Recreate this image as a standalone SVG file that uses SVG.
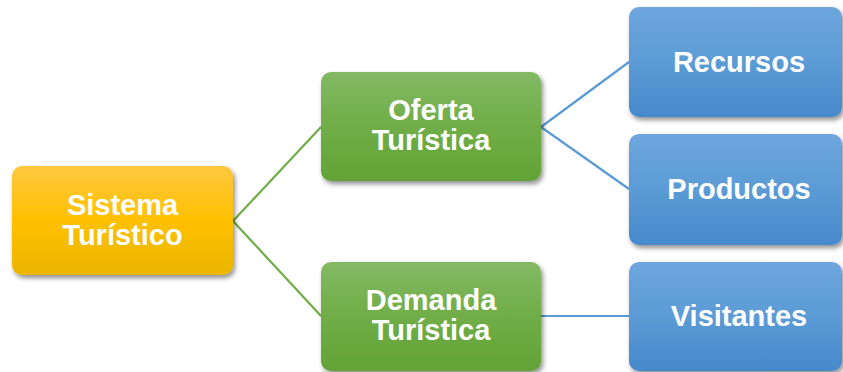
<svg xmlns="http://www.w3.org/2000/svg" width="843" height="372" viewBox="0 0 843 372">
  <defs>
    <linearGradient id="gY" x1="0" y1="0" x2="0" y2="1">
      <stop offset="0" stop-color="#fec840"/>
      <stop offset="0.5" stop-color="#ffc000"/>
      <stop offset="1" stop-color="#eab500"/>
    </linearGradient>
    <linearGradient id="gG" x1="0" y1="0" x2="0" y2="1">
      <stop offset="0" stop-color="#83b964"/>
      <stop offset="0.5" stop-color="#70ad47"/>
      <stop offset="1" stop-color="#63a336"/>
    </linearGradient>
    <linearGradient id="gB" x1="0" y1="0" x2="0" y2="1">
      <stop offset="0" stop-color="#6ea6dd"/>
      <stop offset="0.5" stop-color="#5b9bd5"/>
      <stop offset="1" stop-color="#4689cc"/>
    </linearGradient>
    <filter id="sh" x="-10%" y="-10%" width="125%" height="130%">
      <feGaussianBlur in="SourceAlpha" stdDeviation="2.5"/>
      <feOffset dx="2" dy="3" result="b"/>
      <feComponentTransfer><feFuncA type="linear" slope="0.45"/></feComponentTransfer>
      <feMerge><feMergeNode/><feMergeNode in="SourceGraphic"/></feMerge>
    </filter>
  </defs>
  <style>
    .t { font-family: "Liberation Sans", Arial, sans-serif; font-weight: bold; font-size: 29px; fill: #ffffff; text-anchor: middle; }
    .lg { stroke: #70ad47; stroke-width: 2.2; fill: none; }
    .lb { stroke: #5b9bd5; stroke-width: 2.2; fill: none; }
  </style>
  <rect width="843" height="372" fill="#ffffff"/>
  <g id="connectors">
    <line class="lg" x1="233" y1="221" x2="321" y2="127"/>
    <line class="lg" x1="233" y1="221" x2="321" y2="316"/>
    <line class="lb" x1="541" y1="127" x2="629" y2="62"/>
    <line class="lb" x1="541" y1="127" x2="629" y2="189"/>
    <line class="lb" x1="541" y1="316" x2="629" y2="316"/>
  </g>
  <g id="sistema">
    <rect x="12" y="166" width="221" height="109" rx="10" fill="url(#gY)" filter="url(#sh)"/>
    <text class="t" x="122.5" y="215">Sistema</text>
    <text class="t" x="122.5" y="245">Turístico</text>
  </g>
  <g id="oferta">
    <rect x="321" y="72" width="220" height="109" rx="10" fill="url(#gG)" filter="url(#sh)"/>
    <text class="t" x="431" y="120">Oferta</text>
    <text class="t" x="431" y="150">Turística</text>
  </g>
  <g id="demanda">
    <rect x="321" y="262" width="220" height="109" rx="10" fill="url(#gG)" filter="url(#sh)"/>
    <text class="t" x="431" y="310">Demanda</text>
    <text class="t" x="431" y="340">Turística</text>
  </g>
  <g id="recursos">
    <rect x="629" y="7" width="213" height="110" rx="10" fill="url(#gB)" filter="url(#sh)"/>
    <text class="t" x="739" y="72">Recursos</text>
  </g>
  <g id="productos">
    <rect x="629" y="134" width="213" height="111" rx="10" fill="url(#gB)" filter="url(#sh)"/>
    <text class="t" x="739" y="199">Productos</text>
  </g>
  <g id="visitantes">
    <rect x="629" y="262" width="213" height="109" rx="10" fill="url(#gB)" filter="url(#sh)"/>
    <text class="t" x="739" y="326">Visitantes</text>
  </g>
</svg>
